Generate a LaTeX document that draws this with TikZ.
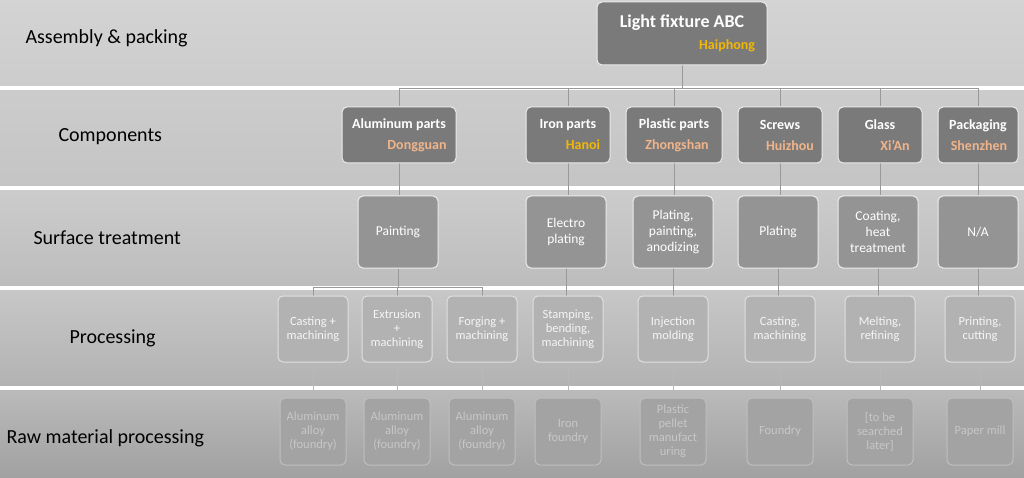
\documentclass[tikz,border=0pt]{standalone}
\usepackage{fontspec}
\setmainfont{Carlito}
\pgfdeclarelayer{bg}
\pgfsetlayers{bg,main}
\begin{document}
\begin{tikzpicture}[x=1pt,y=-1pt,
  lbl/.style={anchor=west,font=\fontsize{20}{22}\selectfont,text=black},
  bx/.style={draw=white!85!gray,line width=1pt,rounded corners=5pt,align=center,inner sep=1pt},
  comp/.style={bx,fill=black!52,text=white,font=\bfseries\fontsize{14}{16}\selectfont},
  surf/.style={bx,fill=black!42,text=white,font=\fontsize{13.5}{16}\selectfont},
  proc/.style={bx,fill=black!30,draw=black!12,text=white!92!gray,font=\fontsize{12.5}{14}\selectfont},
  raw/.style={bx,fill=black!36,draw=black!25,text=black!22,font=\fontsize{12.5}{14}\selectfont},
  ln/.style={draw=black!40,line width=0.8pt},
  sep/.style={fill=white}]
\useasboundingbox (0,0) rectangle (1024,478);
\begin{pgfonlayer}{bg}
\shade[top color=black!17,bottom color=black!20] (0,0) rectangle (1024,86);
\shade[top color=black!20,bottom color=black!23] (0,90) rectangle (1024,186);
\shade[top color=black!20,bottom color=black!26] (0,190) rectangle (1024,286);
\shade[top color=black!22,bottom color=black!30] (0,290) rectangle (1024,386);
\shade[top color=black!27,bottom color=black!37] (0,390) rectangle (1024,478);
\foreach \y in {86,186,286,386} \fill[sep] (0,\y) rectangle (1024,\y+4);
\end{pgfonlayer}
\node[lbl] at (22,38) {Assembly \& packing};
\node[lbl] at (55,137) {Components};
\node[lbl] at (30,238) {Surface treatment};
\node[lbl] at (66,338) {Processing};
\node[lbl] at (3,438) {Raw material processing};
\newcommand\bxn[6]{\node[#1,minimum width=#4-#3,minimum height=#6-#5] (#2) at ({(#3+#4)/2},{(#5+#6)/2})}
\bxn{comp}{top}{597}{767}{2}{65} {\fontsize{18}{20}\selectfont Light fixture ABC\\[6pt]\hspace*{90pt}\textcolor[HTML]{F2B705}{Haiphong}};
\bxn{comp}{c1}{342}{456}{107}{163} {Aluminum parts\\[5pt]\hspace*{36pt}\textcolor[HTML]{F0B48A}{Dongguan}};
\bxn{comp}{c2}{526}{610}{107}{163} {Iron parts\\[5pt]\hspace*{30pt}\textcolor[HTML]{F2B705}{Hanoi}};
\bxn{comp}{c3}{626}{722}{107}{163} {Plastic parts\\[5pt]\hspace*{6pt}\textcolor[HTML]{F0B48A}{Zhongshan}};
\bxn{comp}{c4}{738}{822}{107}{163} {Screws\\[5pt]\hspace*{20pt}\textcolor[HTML]{F0B48A}{Huizhou}};
\bxn{comp}{c5}{838}{922}{107}{163} {Glass\\[5pt]\hspace*{30pt}\textcolor[HTML]{F0B48A}{Xi'An}};
\bxn{comp}{c6}{938}{1018}{107}{163} {Packaging\\[5pt]\hspace*{2pt}\textcolor[HTML]{F0B48A}{Shenzhen}};
\bxn{surf}{s1}{358}{438}{196}{268} {Painting};
\bxn{surf}{s2}{526}{606}{196}{268} {Electro\\plating};
\bxn{surf}{s3}{633}{713}{196}{268} {Plating,\\painting,\\anodizing};
\bxn{surf}{s4}{738}{818}{196}{268} {Plating};
\bxn{surf}{s5}{838}{918}{196}{268} {Coating,\\heat\\treatment};
\bxn{surf}{s6}{938}{1018}{196}{268} {N/A};
\bxn{proc}{p1}{278}{348}{296}{362} {Casting +\\machining};
\bxn{proc}{p2}{362}{432}{296}{362} {Extrusion\\+\\machining};
\bxn{proc}{p3}{447}{517}{296}{362} {Forging +\\machining};
\bxn{proc}{p4}{533}{603}{296}{362} {Stamping,\\bending,\\machining};
\bxn{proc}{p5}{638}{708}{296}{362} {Injection\\molding};
\bxn{proc}{p6}{745}{815}{296}{362} {Casting,\\machining};
\bxn{proc}{p7}{845}{915}{296}{362} {Melting,\\refining};
\bxn{proc}{p8}{945}{1015}{296}{362} {Printing,\\cutting};
\bxn{raw}{r1}{280}{346}{398}{465} {Aluminum\\alloy\\(foundry)};
\bxn{raw}{r2}{364}{430}{398}{465} {Aluminum\\alloy\\(foundry)};
\bxn{raw}{r3}{449}{515}{398}{465} {Aluminum\\alloy\\(foundry)};
\bxn{raw}{r4}{535}{601}{398}{465} {Iron\\foundry};
\bxn{raw}{r5}{640}{706}{398}{465} {Plastic\\pellet\\manufact\\uring};
\bxn{raw}{r6}{747}{813}{398}{465} {Foundry};
\bxn{raw}{r7}{847}{913}{398}{465} {[to be\\searched\\later]};
\bxn{raw}{r8}{947}{1013}{398}{465} {Paper mill};
\begin{pgfonlayer}{bg}
\foreach \c in {c1,c2,c3,c4,c5,c6} \draw[ln] (top.south) -- ++(0,23) -| (\c.north);
\foreach \c/\s in {c1/s1,c2/s2,c3/s3,c4/s4,c5/s5,c6/s6} \draw[ln] (\c.center) -- (\c.center |- \s.north);
\foreach \p in {p1,p2,p3} \draw[ln] (s1.south) -- ++(0,19) -| (\p.north);
\foreach \s/\p in {s2/p4,s3/p5,s4/p6,s5/p7,s6/p8} \draw[ln] (\s.center) -- (\s.center |- \p.north);
\foreach \p/\r in {p1/r1,p2/r2,p3/r3,p4/r4,p5/r5,p6/r6,p7/r7,p8/r8} \draw[ln,draw=black!28] (\p.center) -- (\r.center);
\end{pgfonlayer}
\end{tikzpicture}
\end{document}
